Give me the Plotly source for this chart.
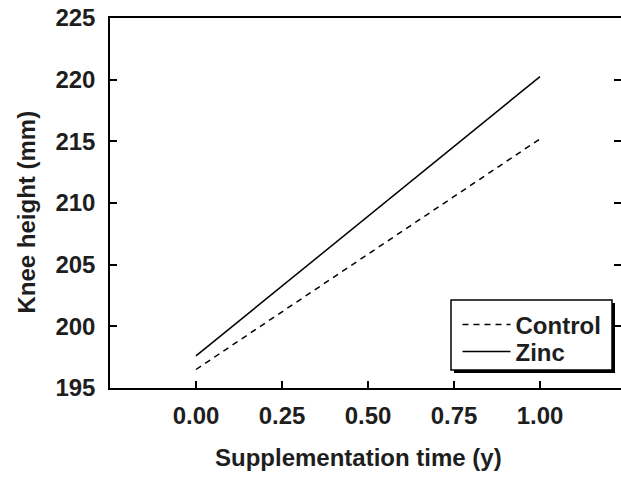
import plotly.graph_objects as go

# Data
time_y = [0.0, 1.0]
control_mm = [196.5, 215.2]
zinc_mm = [197.6, 220.25]
x_ticks = [0.0, 0.25, 0.5, 0.75, 1.0]
x_tick_labels = ["0.00", "0.25", "0.50", "0.75", "1.00"]
y_ticks = [195, 200, 205, 210, 215, 220, 225]

FONT = "Liberation Sans, Arial, sans-serif"
TXT = "#1e1e1e"
FS = 24

fig = go.Figure()
fig.add_trace(go.Scatter(x=time_y, y=control_mm, mode="lines", name="Control",
                         legend="legend",
                         line=dict(color="black", width=1.5, dash="6px,5px")))
fig.add_trace(go.Scatter(x=time_y, y=zinc_mm, mode="lines", name="Zinc",
                         legend="legend2",
                         line=dict(color="black", width=1.5)))
# invisible trace to carry right-side y axis ticks
fig.add_trace(go.Scatter(x=time_y, y=zinc_mm, mode="lines", yaxis="y2",
                         showlegend=False, hoverinfo="skip",
                         line=dict(color="rgba(0,0,0,0)")))

W, H = 621, 483
L, R, T, B = 110, 0, 18, 95
pw, ph = W - L - R, H - T - B

def px_x(p):
    return (p - L) / pw

def px_y(p):
    return (H - B - p) / ph

legend_common = dict(xanchor="left", yanchor="middle",
                     bgcolor="rgba(0,0,0,0)", borderwidth=0,
                     font=dict(family=FONT, size=FS, color=TXT, weight="bold"),
                     tracegroupgap=0, itemwidth=48)

fig.update_layout(
    width=W, height=H,
    margin=dict(l=L, r=R, t=T, b=B),
    paper_bgcolor="white", plot_bgcolor="white",
    font=dict(family=FONT, size=FS, color=TXT),
    showlegend=True,
    xaxis=dict(range=[-0.25, 1.2355], tickvals=x_ticks, ticktext=x_tick_labels,
               ticks="inside", ticklen=7, tickwidth=1.5, tickcolor="black",
               showline=True, linecolor="black", linewidth=1.5, mirror=True,
               showgrid=False, zeroline=False,
               tickfont=dict(family=FONT, size=FS, color=TXT, weight="bold"),
               ticklabelstandoff=5),
    yaxis=dict(range=[195, 225], tickvals=y_ticks,
               ticks="inside", ticklen=7, tickwidth=1.5, tickcolor="black",
               showline=True, linecolor="black", linewidth=1.5,
               showgrid=False, zeroline=False,
               tickfont=dict(family=FONT, size=FS, color=TXT, weight="bold"),
               ticklabelstandoff=8),
    yaxis2=dict(range=[195, 225], tickvals=y_ticks, overlaying="y", side="right",
                ticks="inside", ticklen=7, tickwidth=1.5, tickcolor="black",
                showline=False, showticklabels=False, showgrid=False, zeroline=False),
    legend=dict(x=px_x(457.5), y=px_y(325), **legend_common),
    legend2=dict(x=px_x(457.5), y=px_y(352), **legend_common),
    annotations=[
        dict(text="<b>Knee height (mm)</b>", x=px_x(26), y=px_y(212.5),
             xref="paper", yref="paper", textangle=-90, showarrow=False,
             xanchor="center", yanchor="middle",
             font=dict(family=FONT, size=FS, color=TXT)),
        dict(text="<b>Supplementation time (y)</b>", x=px_x(358), y=px_y(457),
             xref="paper", yref="paper", showarrow=False,
             xanchor="center", yanchor="middle",
             font=dict(family=FONT, size=FS, color=TXT)),
    ],
    shapes=[
        # legend shadow
        dict(type="rect", xref="paper", yref="paper",
             x0=px_x(454), x1=px_x(615), y0=px_y(373), y1=px_y(303),
             fillcolor="black", line=dict(width=0), layer="above"),
        # legend box
        dict(type="rect", xref="paper", yref="paper",
             x0=px_x(451), x1=px_x(612), y0=px_y(370), y1=px_y(300),
             fillcolor="white", line=dict(color="black", width=1.5), layer="above"),
    ],
)

fig.write_html("out.html", config={"displayModeBar": False},
               post_script="document.body.style.margin='0px';")
